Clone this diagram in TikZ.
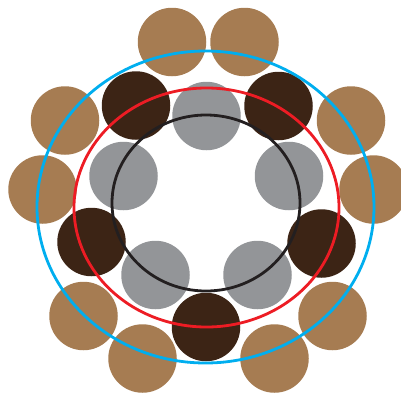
\documentclass[tikz,border=0pt]{standalone}
\definecolor{tan}{HTML}{A67C52}
\definecolor{darkbrown}{HTML}{3C2415}
\definecolor{greyball}{HTML}{939598}
\definecolor{cyanring}{HTML}{00AEEF}
\definecolor{redring}{HTML}{ED1C24}
\definecolor{blackring}{HTML}{231F20}
\begin{document}
\begin{tikzpicture}[x=1pt,y=-1pt,
  ball/.style={circle,inner sep=0pt,minimum size=68.5pt,draw=none},
  tanball/.style={ball,fill=tan},
  darkball/.style={ball,fill=darkbrown},
  greyb/.style={ball,fill=greyball},
  ring/.style={line width=2.8pt}]
\useasboundingbox (0,0) rectangle (401,394);
% tan balls
\node[tanball] (t1) at (172,42) {};
\node[tanball] (t2) at (244.5,42) {};
\node[tanball] (t3) at (65,120.5) {};
\node[tanball] (t4) at (351,120.5) {};
\node[tanball] (t5) at (42.5,189.5) {};
\node[tanball] (t6) at (373.5,189.5) {};
\node[tanball] (t7) at (83.5,316) {};
\node[tanball] (t8) at (332.5,316) {};
\node[tanball] (t9) at (142.5,358.5) {};
\node[tanball] (t10) at (274.5,358.5) {};
% dark balls
\node[darkball] (d1) at (136,105.5) {};
\node[darkball] (d2) at (278.5,106) {};
\node[darkball] (d3) at (91.5,242) {};
\node[darkball] (d4) at (321.5,243.5) {};
\node[darkball] (d5) at (206,327) {};
% grey balls
\node[greyb] (g1) at (206.5,116) {};
\node[greyb] (g2) at (123.5,176) {};
\node[greyb] (g3) at (289,176) {};
\node[greyb] (g4) at (155.5,275) {};
\node[greyb] (g5) at (257.5,275) {};
% rings
\draw[ring,cyanring] (205.5,207) ellipse [x radius=168.5,y radius=156];
\draw[ring,redring] (206.5,207.5) ellipse [x radius=132.5,y radius=119.5];
\draw[ring,blackring] (206,203) ellipse [x radius=94,y radius=88];
\end{tikzpicture}
\end{document}
